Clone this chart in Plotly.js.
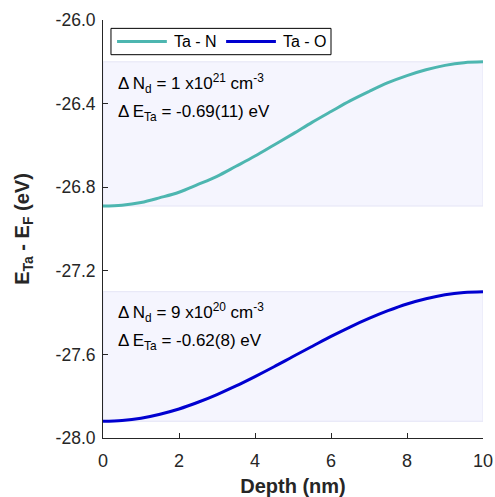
<!DOCTYPE html>
<html>
<head>
<meta charset="utf-8">
<script src="https://cdn.plot.ly/plotly-3.0.1.min.js"></script>
<style>html,body{margin:0;padding:0;background:#fff;}#chart{width:495px;height:497px;}</style>
</head>
<body>
<div id="chart"></div>
<script>
// Data
const depth = [0, 0.5, 1, 1.5, 2, 2.5, 3, 3.5, 4, 4.5, 5, 5.5, 6, 6.5, 7, 7.5, 8, 8.5, 9, 9.5, 10];
const taN = [-26.890, -26.886, -26.873, -26.850, -26.824, -26.787, -26.748, -26.700, -26.651, -26.598, -26.545,
             -26.490, -26.438, -26.387, -26.342, -26.300, -26.266, -26.238, -26.217, -26.204, -26.200];
const taO = [-27.920, -27.916, -27.905, -27.886, -27.861, -27.829, -27.792, -27.751, -27.706, -27.659, -27.610,
             -27.562, -27.514, -27.469, -27.428, -27.391, -27.359, -27.334, -27.315, -27.304, -27.300];
const seriesNames = ['Ta - N', 'Ta - O'];
const seriesColors = ['#4db6b0', '#0000d0'];
const xTicks = [0, 2, 4, 6, 8, 10];
const yTicks = [-28.0, -27.6, -27.2, -26.8, -26.4, -26.0];
const labelN = ['\u0394\u2009N<sub>d</sub> = 1 x10<sup>21</sup> cm<sup>-3</sup>', '\u0394\u2009E<sub>Ta</sub> = -0.69(11) eV'];
const labelO = ['\u0394\u2009N<sub>d</sub> = 9 x10<sup>20</sup> cm<sup>-3</sup>', '\u0394\u2009E<sub>Ta</sub> = -0.62(8) eV'];

const font = 'Liberation Sans, Arial, Helvetica, sans-serif';

const traces = [
  {x: depth, y: taN, name: seriesNames[0], mode: 'lines', line: {color: seriesColors[0], width: 3, shape: 'spline', smoothing: 1}, showlegend: false},
  {x: depth, y: taO, name: seriesNames[1], mode: 'lines', line: {color: seriesColors[1], width: 3, shape: 'spline', smoothing: 1}, showlegend: false}
];

const minN = Math.min(...taN), maxN = Math.max(...taN);
const minO = Math.min(...taO), maxO = Math.max(...taO);

const shapes = [
  {type: 'rect', xref: 'x', yref: 'y', x0: depth[0], x1: depth[depth.length-1], y0: minN, y1: maxN,
   fillcolor: '#f5f5fe', line: {color: '#e4e4f6', width: 1}, layer: 'below'},
  {type: 'rect', xref: 'x', yref: 'y', x0: depth[0], x1: depth[depth.length-1], y0: minO, y1: maxO,
   fillcolor: '#f5f5fe', line: {color: '#e4e4f6', width: 1}, layer: 'below'},
  // legend box and samples
  {type: 'rect', xref: 'paper', yref: 'paper', x0: 0.021, x1: 0.600, y0: 0.917, y1: 0.980,
   fillcolor: '#ffffff', line: {color: '#000000', width: 1}},
  {type: 'line', xref: 'paper', yref: 'paper', x0: 0.037, x1: 0.168, y0: 0.9485, y1: 0.9485,
   line: {color: seriesColors[0], width: 3}},
  {type: 'line', xref: 'paper', yref: 'paper', x0: 0.324, x1: 0.455, y0: 0.9485, y1: 0.9485,
   line: {color: seriesColors[1], width: 3}}
];

const legFont = {family: font, size: 16, color: '#000'};
const annFont = {family: font, size: 17, color: '#000'};
const annotations = [
  {xref: 'paper', yref: 'paper', x: 0.181, y: 0.9485, text: seriesNames[0], showarrow: false, xanchor: 'left', yanchor: 'middle', font: legFont},
  {xref: 'paper', yref: 'paper', x: 0.468, y: 0.9485, text: seriesNames[1], showarrow: false, xanchor: 'left', yanchor: 'middle', font: legFont},
  {xref: 'x', yref: 'y', x: 0.35, y: -26.305, text: labelN[0], showarrow: false, xanchor: 'left', yanchor: 'middle', font: annFont},
  {xref: 'x', yref: 'y', x: 0.35, y: -26.445, text: labelN[1], showarrow: false, xanchor: 'left', yanchor: 'middle', font: annFont},
  {xref: 'x', yref: 'y', x: 0.35, y: -27.40, text: labelO[0], showarrow: false, xanchor: 'left', yanchor: 'middle', font: annFont},
  {xref: 'x', yref: 'y', x: 0.35, y: -27.54, text: labelO[1], showarrow: false, xanchor: 'left', yanchor: 'middle', font: annFont}
];

const layout = {
  width: 495, height: 497,
  margin: {l: 103, r: 12, t: 20, b: 59},
  paper_bgcolor: '#fff', plot_bgcolor: '#fff',
  font: {family: font, size: 18, color: '#262626'},
  xaxis: {
    range: [0, 10], tickvals: xTicks, ticktext: xTicks.map(String),
    showline: true, linecolor: '#262626', linewidth: 1, mirror: false,
    ticks: 'inside', ticklen: 5, tickcolor: '#262626', tickwidth: 1,
    showgrid: false, zeroline: false, ticklabelstandoff: 6,
    tickfont: {family: font, size: 18, color: '#262626'},
    title: {text: '<b>Depth (nm)</b>', font: {family: font, size: 20, color: '#262626'}, standoff: 9}
  },
  yaxis: {
    range: [-28, -26], tickvals: yTicks, ticktext: yTicks.map(v => v.toFixed(1)),
    showline: true, linecolor: '#262626', linewidth: 1, mirror: false,
    ticks: 'inside', ticklen: 5, tickcolor: '#262626', tickwidth: 1,
    showgrid: false, zeroline: false, ticklabelstandoff: 3,
    tickfont: {family: font, size: 17.5, color: '#262626'},
    title: {text: '<b>E<sub>Ta</sub> - E<sub>F</sub> (eV)</b>', font: {family: font, size: 20, color: '#262626'}, standoff: 20}
  },
  shapes: shapes,
  annotations: annotations,
  showlegend: false
};

Plotly.newPlot('chart', traces, layout, {displayModeBar: false, staticPlot: true});
</script>
</body>
</html>
